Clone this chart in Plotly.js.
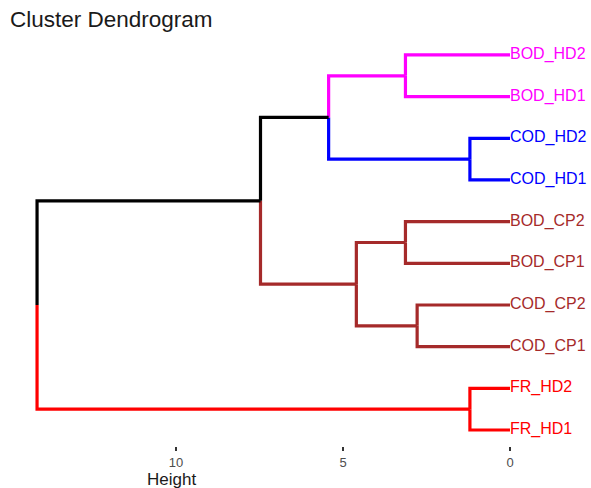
<!DOCTYPE html>
<html>
<head>
<meta charset="utf-8">
<script src="https://cdn.plot.ly/plotly-3.0.1.min.js"></script>
<style>html,body{margin:0;padding:0;background:#fff;}#chart{width:591px;height:488px;}</style>
</head>
<body>
<div id="chart"></div>
<script>
// Leaves, bottom to top
const labels = ["FR_HD1","FR_HD2","COD_CP1","COD_CP2","BOD_CP1","BOD_CP2","COD_HD1","COD_HD2","BOD_HD1","BOD_HD2"];
const leafColors = ["#FF0000","#FF0000","#A52A2A","#A52A2A","#A52A2A","#A52A2A","#0000FF","#0000FF","#FF00FF","#FF00FF"];
// hclust-style merges: negative = leaf (1-based), positive = earlier merge (1-based)
const mergeA = [-1, -7, -3, -5, -9, 3, 2, 6, 1];
const mergeB = [-2, -8, -4, -6, -10, 4, 5, 7, 8];
const mergeHeight = [1.20, 1.20, 2.78, 3.13, 3.13, 4.60, 5.43, 7.47, 14.16];
const tickVals = [0, 5, 10];
const tickText = ["0", "5", "10"];

const nodeY = [], nodeC = [];
function info(c) {
  if (c < 0) return {h: 0, y: -c, col: leafColors[-c - 1]};
  return {h: mergeHeight[c - 1], y: nodeY[c - 1], col: nodeC[c - 1]};
}
const paths = {};
for (let i = 0; i < mergeHeight.length; i++) {
  const a = info(mergeA[i]), b = info(mergeB[i]);
  const h = mergeHeight[i], y = (a.y + b.y) / 2;
  nodeY.push(y);
  nodeC.push(a.col === b.col ? a.col : "#000000");
  [a, b].forEach(ch => {
    if (!paths[ch.col]) paths[ch.col] = {x: [], y: []};
    const p = paths[ch.col];
    p.x.push(h, h, ch.h, null);
    p.y.push(y, ch.y, ch.y, null);
  });
}
const traces = Object.keys(paths).map(col => ({
  type: "scatter", mode: "lines", x: paths[col].x, y: paths[col].y,
  line: {color: col, width: 3.2}, hoverinfo: "skip", showlegend: false, cliponaxis: false
}));
traces.push({
  type: "scatter", mode: "text",
  x: labels.map(() => 0), y: labels.map((_, i) => i + 1),
  text: labels, textposition: "middle right",
  textfont: {family: "Liberation Sans, Arial, sans-serif", size: 16, color: leafColors},
  hoverinfo: "skip", showlegend: false, cliponaxis: false
});

const layout = {
  width: 591, height: 488,
  margin: {l: 10, r: 10, t: 30, b: 42},
  paper_bgcolor: "#ffffff", plot_bgcolor: "#ffffff",
  title: {text: "Cluster Dendrogram", x: 10/591, xanchor: "left", xref: "container",
          y: 1 - 19/488, yanchor: "middle", yref: "container",
          font: {family: "Liberation Sans, Arial, sans-serif", size: 22.5, color: "#1a1a1a"}},
  xaxis: {range: [14.97, -2.126], tickvals: tickVals, ticktext: tickText,
          showgrid: false, zeroline: false, showline: false,
          ticks: "outside", ticklen: 4, tickwidth: 1.5, tickcolor: "#333333",
          tickfont: {family: "Liberation Sans, Arial, sans-serif", size: 13, color: "#4D4D4D"}},
  yaxis: {range: [0.616, 10.599], showgrid: false, zeroline: false, showline: false,
          showticklabels: false, ticks: ""},
  annotations: [{text: "Height", xref: "paper", yref: "paper",
                 x: (171 - 10) / 571, y: (446 - 479) / 416, xanchor: "center", yanchor: "middle",
                 showarrow: false, font: {family: "Liberation Sans, Arial, sans-serif", size: 17, color: "#1a1a1a"}}]
};
Plotly.newPlot("chart", traces, layout, {displayModeBar: false, staticPlot: true});
</script>
</body>
</html>
